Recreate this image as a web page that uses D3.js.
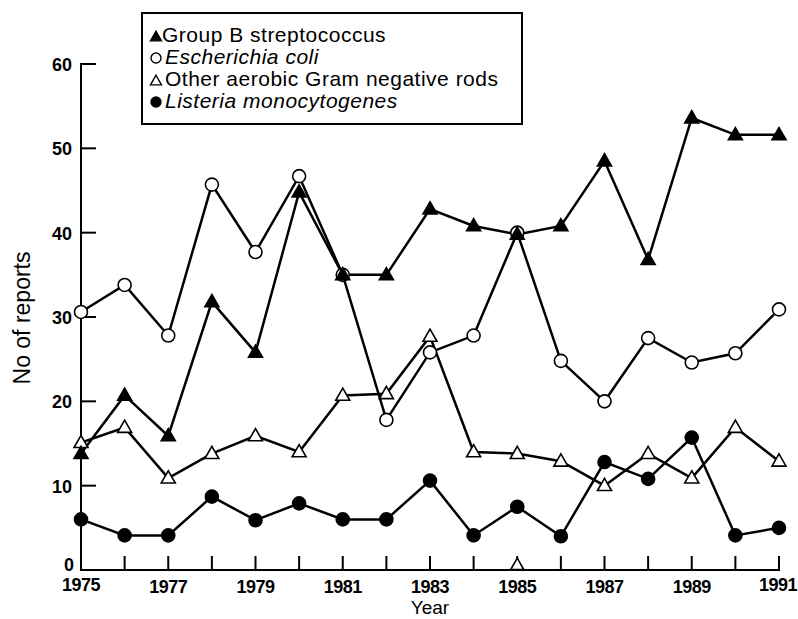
<!DOCTYPE html>
<html><head><meta charset="utf-8">
<script src="https://cdn.jsdelivr.net/npm/d3@7"></script>
<style>body{margin:0;background:#fff}svg{display:block}</style>
</head><body>
<svg id="c" width="798" height="619"></svg>
<script>
const years = [1975,1976,1977,1978,1979,1980,1981,1982,1983,1984,1985,1986,1987,1988,1989,1990,1991];
const groupB = [13.8,20.7,15.9,31.8,25.8,44.8,35,35,42.8,40.8,39.8,40.8,48.5,36.8,53.6,51.6,51.6];
const eColi = [30.6,33.8,27.8,45.7,37.7,46.7,35,17.8,25.8,27.8,40,24.8,20,27.5,24.6,25.7,30.9];
const otherGNR = [15.1,16.9,10.9,13.8,15.9,14,20.7,20.9,27.7,14,13.8,12.9,10,13.8,10.9,16.9,12.9];
const listeria = [6,4.1,4.1,8.7,5.9,7.9,6,6,10.6,4.1,7.5,4,12.8,10.8,15.7,4.1,5];
const extraYear = [1985];
const extraValue = [0];
const yTicks = [0,10,20,30,40,50,60];
const xLabelYears = [1975,1977,1979,1981,1983,1985,1987,1989,1991];
const legendLabels = ["Group B streptococcus","Escherichia coli","Other aerobic Gram negative rods","Listeria monocytogenes"];

const svg = d3.select("#c");
const x = d3.scaleLinear().domain([1975,1991]).range([81,779]);
const y = d3.scaleLinear().domain([0,60]).range([570,64]);
const font = "'Liberation Sans', Arial, Helvetica, sans-serif";

// axes
const ax = svg.append("g").attr("stroke","#000").attr("stroke-width",2).attr("fill","none");
ax.append("line").attr("x1",x(1975)).attr("x2",x(1975)).attr("y1",y(0)+1).attr("y2",y(60)-1);
ax.append("line").attr("x1",x(1975)-1).attr("x2",x(1991)+1).attr("y1",y(0)).attr("y2",y(0));
yTicks.filter(d=>d>0).forEach(t=>{
  ax.append("line").attr("x1",x(1975)).attr("x2",x(1975)+15).attr("y1",y(t)).attr("y2",y(t));
});
years.filter(d=>d>1975).forEach(t=>{
  ax.append("line").attr("x1",x(t)).attr("x2",x(t)).attr("y1",y(0)).attr("y2",y(0)-14);
});
const tl = svg.append("g").attr("font-family",font).attr("font-weight","bold").attr("font-size",18).attr("fill","#000");
yTicks.forEach(t=>{
  tl.append("text").attr("x",t===0?74:72).attr("y",t===0?571:y(t)+7).attr("text-anchor","end").text(t);
});
xLabelYears.forEach(t=>{
  const yy = (t===1975||t===1991)?591:593;
  tl.append("text").attr("x",x(t)+(t===1991?-1:0)).attr("y",yy).attr("text-anchor","middle")
    .attr("letter-spacing",-0.5).text(t);
});
svg.append("text").attr("x",430).attr("y",614).attr("text-anchor","middle")
  .attr("font-family",font).attr("font-size",19).text("Year");
svg.append("text").attr("transform","translate(30,318) rotate(-90)").attr("text-anchor","middle")
  .attr("font-family",font).attr("font-size",23).text("No of reports");

const line = d3.line().x((d,i)=>x(years[i])).y(d=>y(d));
const series = [
  {vals:listeria, shape:"circle", fill:"#000"},
  {vals:otherGNR, shape:"tri", fill:"#fff"},
  {vals:eColi, shape:"circle", fill:"#fff"},
  {vals:groupB, shape:"tri", fill:"#000"}
];
const triPath = (cx,cy,s)=>{const h=s*0.87;return `M${cx},${cy-h*0.6}L${cx+s/2},${cy+h*0.4}L${cx-s/2},${cy+h*0.4}Z`;};
series.forEach(s=>{
  svg.append("path").datum(s.vals).attr("d",line).attr("fill","none").attr("stroke","#000").attr("stroke-width",2.5);
});
series.forEach(s=>{
  const g = svg.append("g");
  s.vals.forEach((v,i)=>{
    if(s.shape==="circle"){
      g.append("circle").attr("cx",x(years[i])).attr("cy",y(v)).attr("r",6.5)
        .attr("fill",s.fill).attr("stroke","#000").attr("stroke-width",1.6);
    } else {
      g.append("path").attr("d",triPath(x(years[i]),y(v),14))
        .attr("fill",s.fill).attr("stroke","#000").attr("stroke-width",1.6);
    }
  });
});
extraYear.forEach((yr,i)=>{
  svg.append("path").attr("d",triPath(x(yr),y(extraValue[i])-5,13)).attr("fill","#fff").attr("stroke","#000").attr("stroke-width",1.6);
});

// legend
const lg = svg.append("g");
lg.append("rect").attr("x",142).attr("y",13).attr("width",380).attr("height",111)
  .attr("fill","#fff").attr("stroke","#000").attr("stroke-width",2);
const rowY = [35,57,79,101];
const shapes = [["tri","#000"],["circle","#fff"],["tri","#fff"],["circle","#000"]];
legendLabels.forEach((lab,i)=>{
  const cx = 156, cy = rowY[i];
  if(shapes[i][0]==="circle"){
    lg.append("circle").attr("cx",cx).attr("cy",cy+1).attr("r",5).attr("fill",shapes[i][1]).attr("stroke","#000").attr("stroke-width",1.4);
  } else {
    lg.append("path").attr("d",triPath(cx,cy+2,11)).attr("fill",shapes[i][1]).attr("stroke","#000").attr("stroke-width",1.4);
  }
  lg.append("text").attr("x",(i===0?162:165)).attr("y",cy+7).attr("font-family",font).attr("font-size",21)
    .attr("letter-spacing",0.5)
    .attr("font-style",(i===1||i===3)?"italic":"normal").text(lab);
});
</script>
</body></html>
